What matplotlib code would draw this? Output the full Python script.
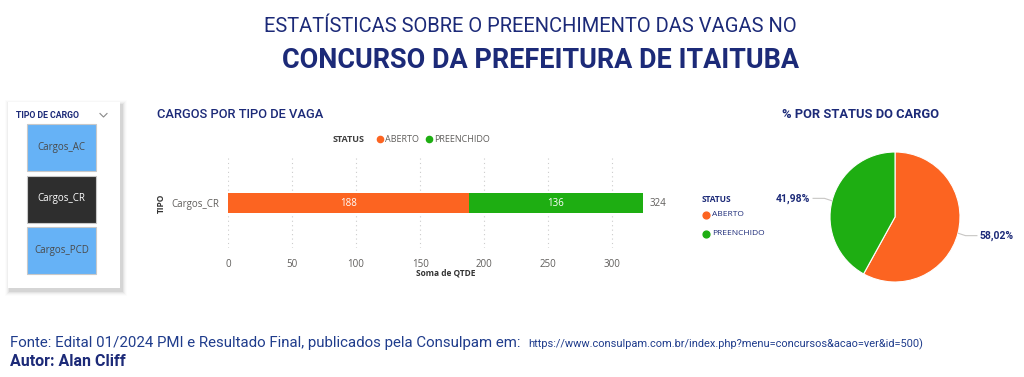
import numpy as np
import matplotlib.pyplot as plt
from matplotlib.patches import Rectangle

W, H = 1024, 377

# dados
tipos = ['Cargos_CR']
status = ['ABERTO', 'PREENCHIDO']
qtde = [188, 136]
slicer_itens = ['Cargos_AC', 'Cargos_CR', 'Cargos_PCD']
selecionado = 'Cargos_CR'
xticks = [0, 50, 100, 150, 200, 250, 300]

cores = ['#FC6421', '#1EAE12']
navy = '#1C2A78'
cinza = '#605E5C'
estreita = ['Liberation Sans Narrow', 'Roboto']

fig = plt.figure(figsize=(W / 100, H / 100), dpi=100)
fig.patch.set_facecolor('white')
renderer = fig.canvas.get_renderer()


def box(x0, y0, x1, y1):
    return [x0 / W, 1 - y1 / H, (x1 - x0) / W, (y1 - y0) / H]


# camada de fundo em pixels (y para baixo)
bg = fig.add_axes([0, 0, 1, 1])
bg.set_xlim(0, W)
bg.set_ylim(H, 0)
bg.axis('off')


def texto(x, y, s, largura=None, **kw):
    t = bg.text(x, y, s, **kw)
    if largura:
        bb = t.get_window_extent(renderer)
        t.set_fontsize(t.get_fontsize() * largura / bb.width)
    return t


# títulos
texto(530, 27, 'ESTATÍSTICAS SOBRE O PREENCHIMENTO DAS VAGAS NO', largura=535,
      ha='center', va='center', color=navy, family='Roboto', fontsize=14)
texto(541, 60, 'CONCURSO DA PREFEITURA DE ITAITUBA', largura=517,
      ha='center', va='center', color=navy, family='Roboto', weight='bold', fontsize=18)

# slicer
for k, a in enumerate([0.06, 0.045, 0.03, 0.02, 0.01]):
    d = k + 1
    bg.add_patch(Rectangle((8 - d + 2, 102 - d + 3), 112 + 2 * d, 186 + 2 * d,
                           facecolor='black', alpha=a, edgecolor='none', zorder=1))
bg.add_patch(Rectangle((8, 102), 112, 186, facecolor='white', edgecolor='none', zorder=2))
texto(16, 116, 'TIPO DE CARGO', ha='left', va='center', color=navy, family='Roboto',
      weight='bold', fontsize=6.3, zorder=3)
bg.plot([100, 103.5, 107], [113.5, 117, 113.5], color='#888888', lw=0.8, zorder=3)
for i, item in enumerate(slicer_itens):
    y0 = 124 + i * 51.5
    ativo = item == selecionado
    bg.add_patch(Rectangle((27, y0), 69, 47, facecolor='#2E2E2E' if ativo else '#66B2F6',
                           edgecolor='#C8C8C8', lw=0.8, zorder=3))
    texto(61.5, y0 + 23.5, item, ha='center', va='center', family='Open Sans', fontsize=7,
          color='white' if ativo else '#4A4A4A', zorder=4)

# gráfico de barras
texto(157, 115, 'CARGOS POR TIPO DE VAGA', ha='left', va='center', color=navy,
      family='Roboto', weight='medium', fontsize=9.3)
texto(333, 139, 'STATUS', ha='left', va='center', color='#404040', family='Open Sans',
      weight='bold', fontsize=6.5)
lx = [380, 429]
for i, s in enumerate(status):
    bg.scatter(lx[i], 139, s=20, color=cores[i], zorder=3)
    texto(lx[i] + 5, 139, s, ha='left', va='center', color=cinza, family='Open Sans', fontsize=6.5)

ax = fig.add_axes(box(228, 158, 643, 248))
esq = 0
for i, v in enumerate(qtde):
    ax.barh(tipos, v, left=esq, color=cores[i], height=20 / 90, zorder=3)
    ax.text(esq + v / 2, 0, str(v), ha='center', va='center', color='white',
            family='Open Sans', fontsize=7)
    esq += v
ax.text(esq + 5, 0, str(esq), ha='left', va='center', color=cinza, family='Open Sans', fontsize=7)
ax.set_xlim(0, sum(qtde))
ax.set_ylim(-0.5, 0.5)
ax.set_xticks(xticks)
ax.tick_params(length=0, labelsize=7, labelcolor=cinza, pad=8)
ax.tick_params(axis='y', pad=6)
for lab in ax.get_xticklabels() + ax.get_yticklabels():
    lab.set_family('Open Sans')
ax.grid(axis='x', ls=(0, (1, 3)), color='#CCCCCC', lw=0.8)
for sp in ax.spines.values():
    sp.set_visible(False)
texto(446, 273, 'Soma de QTDE', ha='center', va='center', color='#333333', family='Open Sans',
      weight='bold', fontsize=6)
texto(161, 203, 'TIPO', ha='center', va='center', rotation=90, color='#333333',
      family='Open Sans', weight='bold', fontsize=6)

# gráfico de pizza
texto(861, 115, '% POR STATUS DO CARGO', ha='center', va='center', color=navy,
      family='Roboto', weight='bold', fontsize=9.3)
texto(702, 199, 'STATUS', ha='left', va='center', color=navy, family='Open Sans',
      weight='bold', fontsize=6)
for i, s in enumerate(status):
    yy = 215 + i * 18.5
    bg.scatter(706, yy, s=24, color=cores[i], zorder=3)
    texto(712, yy, s, ha='left', va='center', color=navy, family='Open Sans', fontsize=6)

r = 65
pax = fig.add_axes(box(895 - 2 * r, 217 - 2 * r, 895 + 2 * r, 217 + 2 * r))
fatias, _ = pax.pie(qtde, colors=cores, startangle=90, counterclock=False,
                    wedgeprops=dict(edgecolor='white', linewidth=0.8))
pax.set_xlim(-2, 2)
pax.set_ylim(-2, 2)
pax.set_aspect('equal')
total = sum(qtde)
for f, v in zip(fatias, qtde):
    ang = np.deg2rad((f.theta1 + f.theta2) / 2)
    cx, cy = np.cos(ang), np.sin(ang)
    lado = np.sign(cx)
    ly = 1.15 * cy
    pax.plot([1.01 * cx, 1.12 * cx, lado * 1.26], [1.01 * cy, ly, ly], color='#C8C6C4', lw=0.8)
    pax.text(lado * 1.3, ly, f'{100 * v / total:.2f}%'.replace('.', ','),
             ha='left' if lado > 0 else 'right', va='center', color=navy,
             family='Roboto', weight='bold', fontsize=7.5)

# rodapé
texto(10, 343, 'Fonte: Edital 01/2024 PMI e Resultado Final, publicados pela Consulpam em: ',
      largura=518, ha='left', va='center', color='#1F3C8C', family=estreita, fontsize=9)
texto(528, 344, 'https://www.consulpam.com.br/index.php?menu=concursos&acao=ver&id=500)',
      largura=393, ha='left', va='center', color='#1F3C8C', family=estreita, fontsize=7)
texto(10, 362, 'Autor: Alan Cliff', largura=115, ha='left', va='center', color=navy,
      family=estreita, weight='bold', fontsize=9)

fig.savefig('out.png', dpi=100)
